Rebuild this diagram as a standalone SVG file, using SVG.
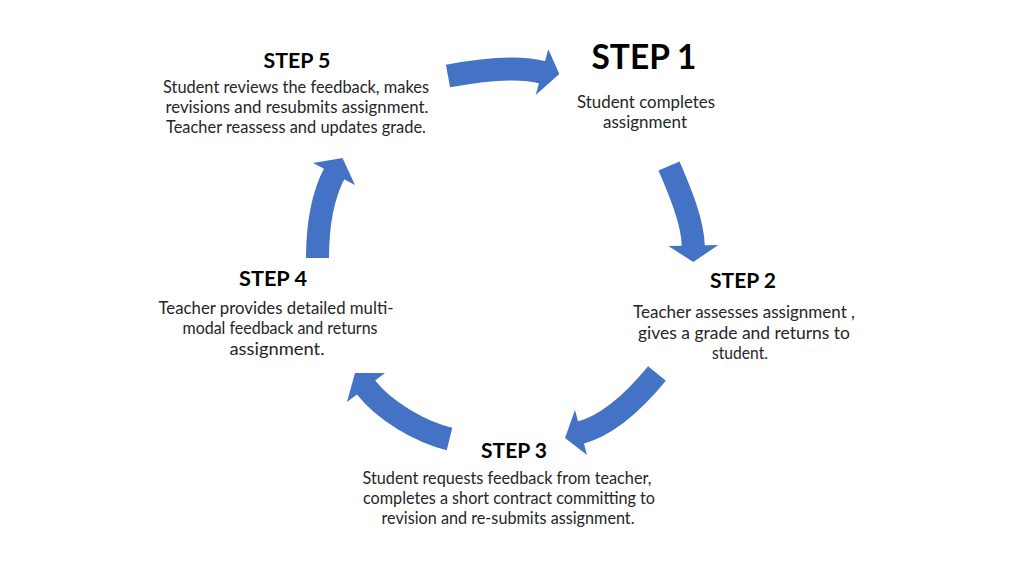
<svg xmlns="http://www.w3.org/2000/svg" width="1024" height="576" viewBox="0 0 1024 576">
<style>
.h{font-family:Lato,"Open Sans","Liberation Sans",sans-serif;font-weight:bold;font-size:20px;fill:#000;text-anchor:middle}
.big{font-size:34px}
.t{font-family:Lato,"Open Sans","Liberation Sans",sans-serif;font-size:16.5px;fill:#262626;text-anchor:middle}
.body{fill:none;stroke:#4472C4;stroke-width:23;stroke-linecap:butt}
.head{fill:#4472C4}
</style>
<rect width="1024" height="576" fill="#fff"/>
<g id="connectors">
<path class="body" d="M448,76 C475,71 516,65 542.8,72.4"/>
<polygon class="head" points="548.3,49.3 559.3,74 535.7,95"/>
<path class="body" d="M669,166 C679,189 693,222 693.3,246.5"/>
<polygon class="head" points="668.3,246 718.3,245 693.3,262"/>
<path class="body" d="M657,373.5 C638,396.6 610,424.7 580.5,432.6"/>
<polygon class="head" points="575,410 587,455 565,438"/>
<path class="body" d="M449.5,439 C420.4,431.8 384.3,411.2 365.5,386.8"/>
<polygon class="head" points="385,373 355,373 347,402"/>
<path class="body" d="M317.5,258 C317.5,228 321,199 334.4,173.2"/>
<polygon class="head" points="313,163 342.5,158 355,185"/>
</g>
<g id="step1">
<text class="h big" x="644" y="69" textLength="105" lengthAdjust="spacingAndGlyphs">STEP 1</text>
<text class="t" x="646" y="108" textLength="138" lengthAdjust="spacingAndGlyphs">Student completes</text>
<text class="t" x="645" y="128" textLength="84" lengthAdjust="spacingAndGlyphs">assignment</text>
</g>
<g id="step2">
<text class="h" x="743" y="288" textLength="66" lengthAdjust="spacingAndGlyphs">STEP 2</text>
<text class="t" x="744" y="318" textLength="222" lengthAdjust="spacingAndGlyphs">Teacher assesses assignment ,</text>
<text class="t" x="744" y="339" textLength="212" lengthAdjust="spacingAndGlyphs">gives a grade and returns to</text>
<text class="t" x="740" y="359" textLength="56" lengthAdjust="spacingAndGlyphs">student.</text>
</g>
<g id="step3">
<text class="h" x="514" y="458" textLength="66" lengthAdjust="spacingAndGlyphs">STEP 3</text>
<text class="t" x="507" y="484" textLength="289" lengthAdjust="spacingAndGlyphs">Student requests feedback from teacher,</text>
<text class="t" x="509" y="504" textLength="292" lengthAdjust="spacingAndGlyphs">completes a short contract committing to</text>
<text class="t" x="508" y="524" textLength="253" lengthAdjust="spacingAndGlyphs">revision and re-submits assignment.</text>
</g>
<g id="step4">
<text class="h" x="273" y="286" textLength="68" lengthAdjust="spacingAndGlyphs">STEP 4</text>
<text class="t" x="276" y="314" textLength="235" lengthAdjust="spacingAndGlyphs">Teacher provides detailed multi-</text>
<text class="t" x="280" y="334" textLength="195" lengthAdjust="spacingAndGlyphs">modal feedback and returns</text>
<text class="t" x="277" y="355" textLength="95" lengthAdjust="spacingAndGlyphs">assignment.</text>
</g>
<g id="step5">
<text class="h" x="297" y="68" textLength="67" lengthAdjust="spacingAndGlyphs">STEP 5</text>
<text class="t" x="296" y="93" textLength="266" lengthAdjust="spacingAndGlyphs">Student reviews the feedback, makes</text>
<text class="t" x="297" y="113" textLength="263" lengthAdjust="spacingAndGlyphs">revisions and resubmits assignment.</text>
<text class="t" x="296" y="133" textLength="260" lengthAdjust="spacingAndGlyphs">Teacher reassess and updates grade.</text>
</g>
</svg>
